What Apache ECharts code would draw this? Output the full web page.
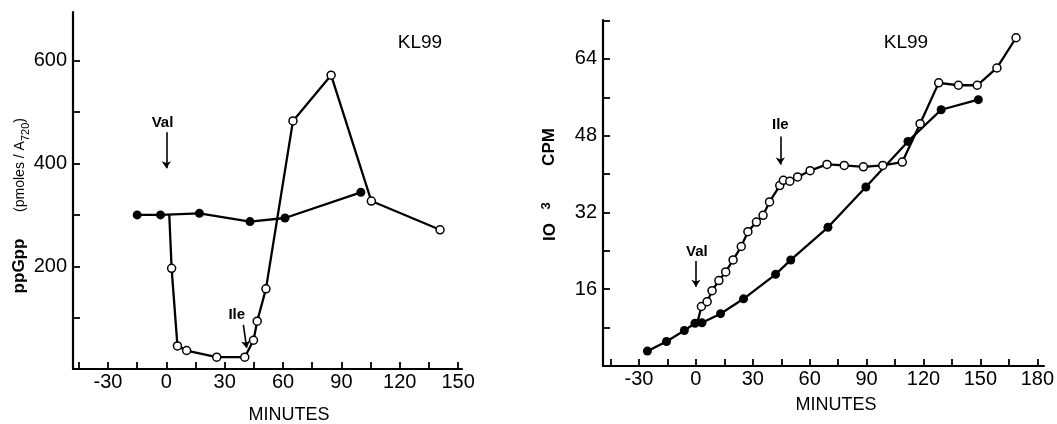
<!DOCTYPE html>
<html>
<head>
<meta charset="utf-8">
<script src="https://cdn.jsdelivr.net/npm/echarts@6/dist/echarts.min.js"></script>
<style>html,body{margin:0;padding:0;background:#fff;}#c{width:1057px;height:424px;}</style>
</head>
<body>
<div id="c"></div>
<script>
// ---- Left panel: ppGpp (pmoles/A720) vs minutes ----
const leftFilledX = [-15, -3, 17, 43, 61, 100];
const leftFilledY = [300, 300, 303, 287, 294, 344];
const leftOpenX = [1.5, 2.7, 5.7, 10.4, 25.9, 40.3, 44.8, 46.7, 51.2, 65.1, 84.7, 105.4, 140.7];
const leftOpenY = [300, 196, 45, 36, 23, 23, 56, 93, 156, 483, 572, 327, 271];
const leftXLabels = [-30, 0, 30, 60, 90, 120, 150];
const leftXTicks = [-45, -30, -15, 0, 15, 30, 45, 60, 75, 90, 105, 120, 135, 150];
const leftYLabels = [200, 400, 600];
const leftYTicks = [100, 200, 300, 400, 500, 600];

// ---- Right panel: 10^3 CPM vs minutes ----
const rightFilledX = [-25.6, -15.5, -6.1, -0.5, 3.2, 13.0, 25.1, 42.0, 50.0, 69.6, 89.6, 111.8, 129.3, 148.9];
const rightFilledY = [3.1, 5.1, 7.4, 8.9, 9.0, 10.9, 14.0, 19.1, 22.1, 28.9, 37.3, 46.8, 53.4, 55.5];
const rightOpenX = [1.0, 2.9, 5.9, 8.5, 12.1, 15.7, 19.6, 23.9, 27.4, 31.9, 35.4, 38.8, 44.2, 46.1, 49.5, 53.6, 60.2, 69.1, 78.2, 88.3, 98.5, 108.8, 118.2, 128.0, 138.4, 148.3, 158.7, 168.8];
const rightOpenY = [9.4, 12.4, 13.4, 15.7, 17.8, 19.6, 22.1, 24.9, 28.0, 30.0, 31.4, 34.2, 37.6, 38.7, 38.5, 39.4, 40.7, 42.0, 41.8, 41.5, 41.8, 42.5, 50.5, 59.0, 58.5, 58.5, 62.1, 68.4];
const rightXLabels = [-30, 0, 30, 60, 90, 120, 150, 180];
const rightXTicks = [-45, -30, -15, 0, 15, 30, 45, 60, 75, 90, 105, 120, 135, 150, 165, 180];
const rightYLabels = [16, 32, 48, 64];
const rightYTicks = [8, 16, 24, 32, 40, 48, 56, 64, 72];

const FONT = 'Liberation Sans';
const pair = (xs, ys) => xs.map((x, i) => [x, ys[i]]);

function xAxisDef(gridIndex, min, max, labels, ticks) {
  return {
    type: 'value', gridIndex, min, max,
    axisLine: { show: true, onZero: false, lineStyle: { color: '#000', width: 2.2 } },
    axisTick: { show: true, inside: true, length: 7, customValues: ticks, lineStyle: { color: '#000', width: 1.8 } },
    axisLabel: { show: true, customValues: labels, color: '#000', fontFamily: FONT, fontSize: 20, margin: 3 },
    splitLine: { show: false }
  };
}
function yAxisDef(gridIndex, min, max, labels, ticks) {
  return {
    type: 'value', gridIndex, min, max,
    axisLine: { show: true, onZero: false, lineStyle: { color: '#000', width: 2.2 } },
    axisTick: { show: true, inside: true, length: 7, customValues: ticks, lineStyle: { color: '#000', width: 1.8 } },
    axisLabel: { show: true, customValues: labels, color: '#000', fontFamily: FONT, fontSize: 20, margin: 6 },
    splitLine: { show: false }
  };
}
const filledStyle = {
  type: 'line', symbol: 'circle', symbolSize: 9, showAllSymbol: true,
  lineStyle: { color: '#000', width: 2.3 }, itemStyle: { color: '#000' }, z: 2
};
const openStyle = {
  type: 'line', symbol: 'circle', symbolSize: 8, showAllSymbol: true,
  lineStyle: { color: '#000', width: 2.3 }, itemStyle: { color: '#fff', borderColor: '#000', borderWidth: 1.5 }, z: 3
};
const arrowLine = (x, y0, x1, y1) => [{ coord: [x, y0] }, { coord: [x1, y1] }];
const noteLabel = (x, y, text) => ({
  coord: [x, y], symbol: 'circle', symbolSize: 1, itemStyle: { color: 'rgba(0,0,0,0)' },
  label: { show: true, position: 'inside', formatter: text, color: '#000', fontFamily: FONT, fontWeight: 'bold', fontSize: 15 }
});
const markLineStyle = {
  silent: true, symbol: ['none', 'arrow'], symbolSize: 7,
  lineStyle: { color: '#000', width: 1.6, type: 'solid' }, label: { show: false }
};

const leftOpenData = pair(leftOpenX, leftOpenY).map((p, i) => i === 0 ? { value: p, symbol: 'none' } : p);
const rightOpenData = pair(rightOpenX, rightOpenY).map((p, i) => i === 0 ? { value: p, symbol: 'none' } : p);

const chart = echarts.init(document.getElementById('c'), null, { renderer: 'canvas' });
chart.setOption({
  animation: false,
  backgroundColor: '#fff',
  grid: [
    { left: 73, top: 12, width: 389, height: 357 },
    { left: 603, top: 20, width: 441, height: 346 }
  ],
  xAxis: [
    xAxisDef(0, -48, 152, leftXLabels, leftXTicks),
    xAxisDef(1, -49, 183.5, rightXLabels, rightXTicks)
  ],
  yAxis: [
    yAxisDef(0, 0, 695, leftYLabels, leftYTicks),
    yAxisDef(1, 0, 72.1, rightYLabels, rightYTicks)
  ],
  series: [
    Object.assign({}, filledStyle, {
      xAxisIndex: 0, yAxisIndex: 0, data: pair(leftFilledX, leftFilledY),
      markLine: Object.assign({}, markLineStyle, { data: [arrowLine(0, 461, 0, 391), arrowLine(39.6, 86, 41.3, 41)] }),
      markPoint: { silent: true, data: [noteLabel(-2, 479, 'Val'), noteLabel(36.2, 105, 'Ile')] }
    }),
    Object.assign({}, openStyle, { xAxisIndex: 0, yAxisIndex: 0, data: leftOpenData }),
    Object.assign({}, filledStyle, {
      xAxisIndex: 1, yAxisIndex: 1, data: pair(rightFilledX, rightFilledY),
      markLine: Object.assign({}, markLineStyle, { data: [arrowLine(0, 21.9, 0, 16.5), arrowLine(44.5, 47.8, 44.5, 42.0)] }),
      markPoint: { silent: true, data: [noteLabel(0.5, 23.8, 'Val'), noteLabel(44.5, 50.2, 'Ile')] }
    }),
    Object.assign({}, openStyle, { xAxisIndex: 1, yAxisIndex: 1, data: rightOpenData })
  ],
  graphic: [
    { type: 'text', x: 420, y: 43, style: { text: 'KL99', fontFamily: FONT, fontSize: 19, fill: '#000', align: 'center', verticalAlign: 'middle' } },
    { type: 'text', x: 906, y: 43, style: { text: 'KL99', fontFamily: FONT, fontSize: 19, fill: '#000', align: 'center', verticalAlign: 'middle' } },
    { type: 'text', x: 289, y: 415, style: { text: 'MINUTES', fontFamily: FONT, fontSize: 18, fill: '#000', align: 'center', verticalAlign: 'middle' } },
    { type: 'text', x: 836, y: 405, style: { text: 'MINUTES', fontFamily: FONT, fontSize: 18, fill: '#000', align: 'center', verticalAlign: 'middle' } },
    { type: 'text', x: 19, y: 266, rotation: Math.PI / 2, style: { text: 'ppGpp', fontFamily: FONT, fontWeight: 'bold', fontSize: 17, fill: '#000', align: 'center', verticalAlign: 'middle' } },
    { type: 'text', x: 20, y: 165, rotation: Math.PI / 2, style: {
        text: '(pmoles / A{sub|720})', fontFamily: FONT, fontSize: 14, fill: '#000', align: 'center', verticalAlign: 'middle',
        lineHeight: 22,
        rich: { sub: { fontFamily: FONT, fontSize: 11, fill: '#000', verticalAlign: 'bottom', lineHeight: 11 } }
      } },
    { type: 'text', x: 549, y: 147, rotation: Math.PI / 2, style: { text: 'CPM', fontFamily: FONT, fontWeight: 'bold', fontSize: 17, fill: '#000', align: 'center', verticalAlign: 'middle' } },
    { type: 'text', x: 550, y: 232, rotation: Math.PI / 2, style: { text: 'IO', fontFamily: FONT, fontWeight: 'bold', fontSize: 17, fill: '#000', align: 'center', verticalAlign: 'middle' } },
    { type: 'text', x: 546, y: 206, rotation: Math.PI / 2, style: { text: '3', fontFamily: FONT, fontWeight: 'bold', fontSize: 13, fill: '#000', align: 'center', verticalAlign: 'middle' } }
  ]
});
</script>
</body>
</html>
